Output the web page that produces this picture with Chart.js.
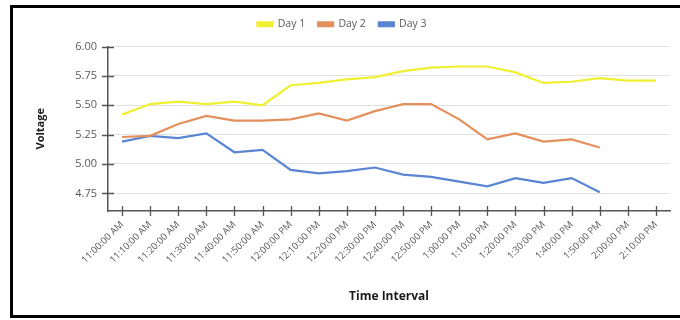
<!DOCTYPE html>
<html>
<head>
<meta charset="utf-8">
<script src="https://cdn.jsdelivr.net/npm/chart.js@4/dist/chart.umd.min.js"></script>
<style>
  html, body { margin: 0; padding: 0; background: #fff; overflow: hidden; }
  #wrap { position: relative; width: 680px; height: 320px; overflow: hidden; }
  #frame { position: absolute; left: 10px; top: 5px; width: 670px; height: 313px; border: 3px solid #000; border-right: none; box-sizing: border-box; }
  canvas { position: absolute; left: 0; top: 0; }
</style>
</head>
<body>
<div id="wrap">
  <canvas id="chart" width="680" height="320"></canvas>
  <div id="frame"></div>
</div>
<script>
var timeLabels = ["11:00:00 AM", "11:10:00 AM", "11:20:00 AM", "11:30:00 AM", "11:40:00 AM", "11:50:00 AM",
                  "12:00:00 PM", "12:10:00 PM", "12:20:00 PM", "12:30:00 PM", "12:40:00 PM", "12:50:00 PM",
                  "1:00:00 PM", "1:10:00 PM", "1:20:00 PM", "1:30:00 PM", "1:40:00 PM", "1:50:00 PM",
                  "2:00:00 PM", "2:10:00 PM"];
var day1 = [5.42, 5.51, 5.53, 5.51, 5.53, 5.50, 5.67, 5.69, 5.72, 5.74, 5.79, 5.82, 5.83, 5.83, 5.78, 5.69, 5.70, 5.73, 5.71, 5.71];
var day2 = [5.23, 5.24, 5.34, 5.41, 5.37, 5.37, 5.38, 5.43, 5.37, 5.45, 5.51, 5.51, 5.38, 5.21, 5.26, 5.19, 5.21, 5.14, null, null];
var day3 = [5.19, 5.24, 5.22, 5.26, 5.10, 5.12, 4.95, 4.92, 4.94, 4.97, 4.91, 4.89, 4.85, 4.81, 4.88, 4.84, 4.88, 4.76, null, null];
var yTicks = [4.75, 5.00, 5.25, 5.50, 5.75, 6.00];

var axisColor = "#555555";
var textColor = "#595959";

//Tick marks that cross the axis line, like the original
var crossTicks = {
    id: "crossTicks",
    afterDraw: function(chart)
    {
        var ctx = chart.ctx;
        var xs = chart.scales.x;
        var ys = chart.scales.y;
        var area = chart.chartArea;
        ctx.save();
        ctx.strokeStyle = axisColor;
        ctx.lineWidth = 1.3;
        ctx.beginPath();
        xs.ticks.forEach(function(t, i) {
            var px = Math.round(xs.getPixelForTick(i)) + 0.5;
            ctx.moveTo(px, area.bottom - 5);
            ctx.lineTo(px, area.bottom + 5);
        });
        ys.ticks.forEach(function(t, i) {
            var py = Math.round(ys.getPixelForTick(i)) + 0.5;
            ctx.moveTo(area.left - 6, py);
            ctx.lineTo(area.left + 6, py);
        });
        ctx.stroke();
        ctx.restore();
    }
};

//Extra room under the legend
var legendGap = {
    id: "legendGap",
    beforeInit: function(chart)
    {
        var fit = chart.legend.fit;
        chart.legend.fit = function() {
            fit.call(this);
            this.height += 7;
        };
    }
};

function makeSet(label, values, color)
{
    return {
        label: label,
        data: values,
        borderColor: color,
        backgroundColor: color,
        borderWidth: 2.2,
        pointRadius: 0,
        tension: 0,
        spanGaps: false
    };
}

new Chart(document.getElementById("chart"), {
    type: "line",
    data: {
        labels: timeLabels,
        datasets: [
            makeSet("Day 1", day1, "#f0f032"),
            makeSet("Day 2", day2, "#e3905d"),
            makeSet("Day 3", day3, "#5985d2")
        ]
    },
    options: {
        responsive: false,
        animation: false,
        layout: { padding: { left: 14, right: 10, top: 6, bottom: 12 } },
        font: { family: "'Open Sans', sans-serif" },
        plugins: {
            legend: {
                display: true,
                position: "top",
                labels: {
                    boxWidth: 15,
                    boxHeight: 4,
                    padding: 13,
                    color: textColor,
                    font: { family: "'Open Sans', sans-serif", size: 10.5 }
                }
            },
            tooltip: { enabled: false }
        },
        scales: {
            x: {
                type: "category",
                offset: true,
                grid: { display: false, offset: false, drawTicks: false },
                border: { display: true, color: axisColor, width: 1.5 },
                ticks: {
                    color: textColor,
                    font: { family: "'Open Sans', sans-serif", size: 9.5 },
                    maxRotation: 45,
                    minRotation: 45,
                    autoSkip: false,
                    padding: 8
                },
                title: {
                    display: true,
                    text: "Time Interval",
                    color: "#1a1a1a",
                    font: { family: "'Open Sans', sans-serif", size: 12, weight: "bold" },
                    padding: { top: 4, bottom: 4 }
                },
                afterFit: function(scale) { scale.height = 97; }
            },
            y: {
                min: 4.6,
                max: 6.0,
                afterBuildTicks: function(scale) {
                    scale.ticks = yTicks.map(function(v) { return { value: v }; });
                },
                grid: { color: "#e2e2e2", lineWidth: 1, drawTicks: false },
                border: { display: true, color: axisColor, width: 1.5 },
                ticks: {
                    color: textColor,
                    font: { family: "'Open Sans', sans-serif", size: 11 },
                    padding: 11,
                    callback: function(v) { return Number(v).toFixed(2); }
                },
                title: {
                    display: true,
                    text: "Voltage",
                    color: "#1a1a1a",
                    font: { family: "'Open Sans', sans-serif", size: 11, weight: "bold" },
                    padding: { top: 20, bottom: 4 }
                },
                afterFit: function(scale) { scale.width = 94; }
            }
        }
    },
    plugins: [crossTicks, legendGap]
});
</script>
</body>
</html>
